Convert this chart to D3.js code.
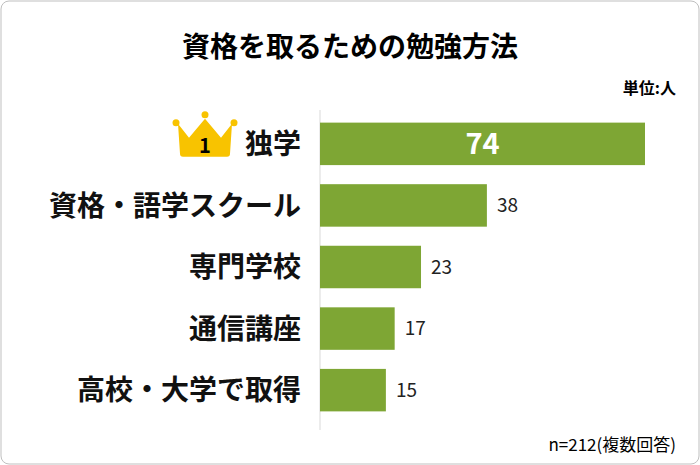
<!DOCTYPE html><html><head><meta charset="utf-8"><script src="https://cdn.jsdelivr.net/npm/d3@7"></script>
<style>body{margin:0;background:#fff}</style></head><body><svg id="c" width="700" height="465"></svg>
<script>
const categories=["独学","資格・語学スクール","専門学校","通信講座","高校・大学で取得"];
const values=[74,38,23,17,15];
const svg=d3.select("#c");
const F="'Noto Sans CJK JP',sans-serif";
svg.append("rect").attr("x",1).attr("y",1).attr("width",698).attr("height",463).attr("rx",8).attr("fill","#fff").attr("stroke","#bfbfbf");
svg.append("text").attr("x",350).attr("y",57).attr("text-anchor","middle").attr("font-family",F).attr("font-weight","bold").attr("font-size",28).text("資格を取るための勉強方法");
svg.append("text").attr("x",676).attr("y",94).attr("text-anchor","end").attr("font-family",F).attr("font-weight","bold").attr("font-size",16).text("単位:人");
svg.append("text").attr("x",676).attr("y",451).attr("text-anchor","end").attr("font-family",F).attr("font-size",17).text("n=212(複数回答)");
const x=d3.scaleLinear().domain([0,74]).range([320,645]);
const y=d3.scaleBand().domain(categories).range([114,420]).paddingInner(0.31).paddingOuter(0.14);
svg.append("line").attr("x1",320).attr("x2",320).attr("y1",110).attr("y2",430).attr("stroke","#d9d9d9");
svg.selectAll(".b").data(values).join("rect").attr("x",x(0)).attr("y",(d,i)=>y(categories[i])).attr("width",d=>x(d)-x(0)).attr("height",y.bandwidth()).attr("fill","#7ea634");
svg.selectAll(".v").data(values).join("text").attr("font-family",F)
 .attr("x",(d,i)=>i==0?(x(0)+x(d))/2:x(d)+10).attr("text-anchor",(d,i)=>i==0?"middle":"start")
 .attr("y",(d,i)=>y(categories[i])+y.bandwidth()/2).attr("dy","0.36em")
 .attr("font-size",(d,i)=>i==0?29:19).attr("font-weight",(d,i)=>i==0?"bold":"normal").attr("fill",(d,i)=>i==0?"#fff":"#222").text(d=>d);
svg.selectAll(".c").data(categories).join("text").attr("font-family",F).attr("font-weight","bold").attr("font-size",28)
 .attr("x",301).attr("text-anchor","end").attr("y",d=>y(d)+y.bandwidth()/2).attr("dy","0.36em").attr("fill","#111").text(d=>d);
const cy=y(categories[0])+y.bandwidth()/2;
const g=svg.append("g").attr("transform",`translate(205,${cy})`);
g.append("path").attr("d","M-27,-20 L-16,-6 L0,-25 L16,-6 L27,-20 L25,10 Q25,13 22,13 L-22,13 Q-25,13 -25,10 Z").attr("fill","#f8c300");
[[-29,-21],[0,-29],[29,-21]].forEach(p=>g.append("circle").attr("cx",p[0]).attr("cy",p[1]).attr("r",3.5).attr("fill","#f8c300"));
g.append("text").attr("x",0).attr("y",2).attr("dy","0.36em").attr("text-anchor","middle").attr("font-family",F).attr("font-weight","bold").attr("font-size",20).text("1");
</script></body></html>
